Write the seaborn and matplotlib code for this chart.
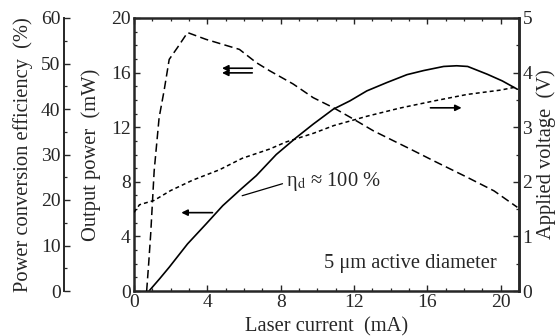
import matplotlib
matplotlib.use("Agg")
import matplotlib.pyplot as plt
from matplotlib.ticker import MultipleLocator
import seaborn as sns

# Laser current sweep (mA) and measured quantities
current_power = [0.82, 1.4, 1.92, 2.92, 3.93, 4.84, 5.84, 6.67, 7.76, 8.86, 9.77,
                 10.87, 11.78, 12.7, 13.79, 14.89, 15.8, 16.89, 17.6, 18.2, 19.27,
                 20.09, 20.91]
output_power = [0.0, 0.9, 1.74, 3.45, 4.91, 6.25, 7.47, 8.45, 10.0, 11.25, 12.22,
                13.32, 13.93, 14.66, 15.27, 15.85, 16.15, 16.45, 16.5, 16.45, 15.88,
                15.39, 14.78]

current_eff = [0.69, 0.8, 0.91, 1.10, 1.37, 1.64, 1.92, 2.37, 2.92, 3.93, 4.84,
               5.75, 6.67, 7.4, 8.68, 9.77, 10.87, 11.96, 13.06, 14.16, 15.07,
               16.35, 18.17, 19.64, 20.91]
efficiency = [0.0, 6.0, 12.5, 26.4, 38.1, 44.0, 50.9, 53.5, 56.8, 55.3, 54.2,
              53.1, 50.2, 48.4, 45.5, 42.5, 40.3, 37.8, 35.2, 33.0, 31.2,
              28.6, 25.0, 22.0, 18.4]

current_volt = [0.0, 0.3, 1.1, 2.0, 3.2, 4.66, 5.9, 7.4, 8.3, 9.8, 10.9, 12.7,
                14.5, 16.35, 18.17, 20.0, 20.9]
voltage = [1.44, 1.58, 1.66, 1.84, 2.03, 2.22, 2.43, 2.60, 2.73, 2.89, 3.03,
           3.20, 3.35, 3.48, 3.60, 3.68, 3.74]

x_ticks = [0, 4, 8, 12, 16, 20]
power_ticks = [0, 4, 8, 12, 16, 20]
eff_ticks = [0, 10, 20, 30, 40, 50, 60]
volt_ticks = [0, 1, 2, 3, 4, 5]

sns.set_style("ticks")
plt.rcParams["font.family"] = ["Liberation Serif", "DejaVu Serif"]
plt.rcParams["mathtext.fontset"] = "stix"

TICK_FS = 14
LABEL_FS = 14.8

W, H = 555, 336
L, R, T, B = 134, 519, 18, 291
fig = plt.figure(figsize=(W / 100, H / 100), dpi=100)
rect = [L / W, 1 - B / H, (R - L) / W, (B - T) / H]
ax = fig.add_axes(rect)
ax_v = ax.twinx()
ax_e = ax.twinx()

# Curves
sns.lineplot(x=current_power, y=output_power, ax=ax, color="black", lw=1.2,
             estimator=None, sort=False)
sns.lineplot(x=current_eff, y=efficiency, ax=ax_e, color="black", lw=1.1,
             estimator=None, sort=False, linestyle=(0, (5.5, 2.8)))
sns.lineplot(x=current_volt, y=voltage, ax=ax_v, color="black", lw=1.1,
             estimator=None, sort=False, linestyle=(0, (2.6, 2.0)))


def style_ticks(a):
    a.tick_params(which="major", length=4.5, width=1.0)
    a.tick_params(which="minor", length=2.5, width=0.9)


# Main axes: current vs output power
ax.set_xlim(0, 21)
ax.set_ylim(0, 20)
ax.set_xticks(x_ticks)
ax.set_yticks(power_ticks)
ax.xaxis.set_minor_locator(MultipleLocator(1))
ax.yaxis.set_minor_locator(MultipleLocator(1))
ax.tick_params(axis="x", which="both", direction="in", top=True, bottom=True,
               labelsize=TICK_FS, pad=2.5)
ax.tick_params(axis="y", which="both", direction="in", left=True, right=False,
               labelsize=TICK_FS, pad=2.5)
style_ticks(ax)
for s in ax.spines.values():
    s.set_linewidth(1.8)
    s.set_visible(True)
ax.set_xlabel("Laser current  (mA)", fontsize=LABEL_FS)
ax.set_ylabel("Output power  (mW)", fontsize=LABEL_FS)
ax.xaxis.set_label_coords(0.5, -0.097)
ax.yaxis.set_label_coords(-0.087, 0.5)

# Right axis: applied voltage
ax_v.set_ylim(0, 5)
ax_v.set_yticks(volt_ticks)
ax_v.yaxis.set_minor_locator(MultipleLocator(0.5))
ax_v.tick_params(axis="y", which="both", direction="in", right=True, left=False,
                 labelsize=TICK_FS, pad=2.5)
style_ticks(ax_v)
for name, s in ax_v.spines.items():
    s.set_visible(name == "right")
    s.set_linewidth(1.8)
ax_v.set_ylabel("Applied voltage  (V)", fontsize=LABEL_FS)
ax_v.yaxis.set_label_coords(1.045, 0.5)

# Efficiency data axes (scale shown on a separate outer axis)
ax_e.set_ylim(0, 60)
ax_e.set_yticks([])
ax_e.set_ylabel("")
for s in ax_e.spines.values():
    s.set_visible(False)

# Outer left scale: power conversion efficiency
EX = 64
ax_es = fig.add_axes([EX / W, 1 - B / H, 0.5 / W, (B - T) / H])
ax_es.patch.set_visible(False)
ax_es.set_ylim(ax_e.get_ylim())
ax_es.set_yticks(eff_ticks)
ax_es.yaxis.set_minor_locator(MultipleLocator(5))
ax_es.set_xticks([])
for name, s in ax_es.spines.items():
    s.set_visible(name == "left")
    s.set_linewidth(1.4)
ax_es.tick_params(axis="y", which="both", direction="in", left=True, right=False,
                  labelsize=TICK_FS, pad=2.5)
style_ticks(ax_es)
ax_es.set_ylabel("Power conversion efficiency  (%)", fontsize=LABEL_FS)
ax_es.yaxis.set_label_coords(-31 / 0.5, 0.5)

# Arrows pointing to the relevant axes (drawn in output-power coordinates)
arrow = dict(arrowstyle="-|>", color="black", lw=1.2, mutation_scale=9,
             shrinkA=0, shrinkB=0)
ax.annotate("", xy=(4.80, 16.32), xytext=(6.45, 16.32), arrowprops=arrow)
ax.annotate("", xy=(4.80, 15.98), xytext=(6.45, 15.98), arrowprops=arrow)
ax.annotate("", xy=(2.58, 5.74), xytext=(4.28, 5.74), arrowprops=arrow)
ax.annotate("", xy=(17.87, 13.42), xytext=(16.17, 13.42), arrowprops=arrow)

# Differential efficiency label with leader line
ax.plot([5.9, 8.1], [6.98, 7.86], color="black", lw=0.9)
ax.text(8.3, 8.05, r"η$_{\rm d}$ ≈ 100 %", fontsize=LABEL_FS, ha="left",
        va="center")
ax.text(15.05, 2.0, "5 μm active diameter", fontsize=LABEL_FS, ha="center",
        va="center")

fig.savefig("out.png", dpi=100)
